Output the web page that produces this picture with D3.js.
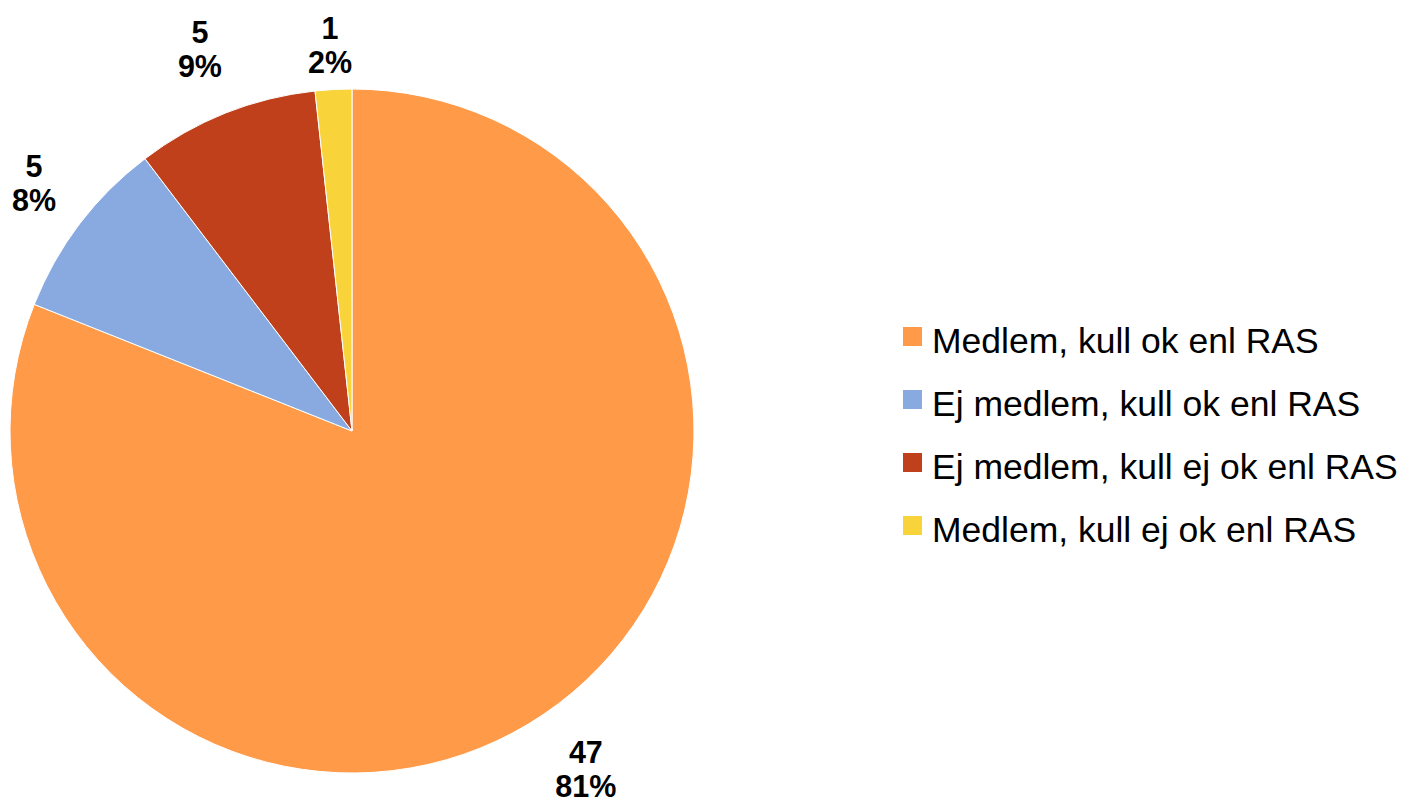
<!DOCTYPE html>
<html>
<head>
<meta charset="utf-8">
<script src="https://cdn.jsdelivr.net/npm/d3@7"></script>
<style>
  body { margin: 0; background: #fff; }
  svg { display: block; font-family: "Liberation Sans", Arial, sans-serif; }
</style>
</head>
<body>
<div id="chart"></div>
<script>
var categories = ["Medlem, kull ok enl RAS", "Ej medlem, kull ok enl RAS", "Ej medlem, kull ej ok enl RAS", "Medlem, kull ej ok enl RAS"];
var counts = [47, 5, 5, 1];
var percentLabels = ["81%", "8%", "9%", "2%"];
var colors = ["#FF9A48", "#88AAE0", "#C0401C", "#F9D33A"];

var width = 1423, height = 802;
var cx = 352, cy = 431, radius = 342;
var labelFont = 30.5, lineGap = 34, capH = 22, labelClear = 374;
var topLimit = 17, bottomLimit = 797, leftLimit = 12;

var svg = d3.select("#chart").append("svg")
    .attr("width", width)
    .attr("height", height);

var data = categories.map(function(c, i){
    return {name: c, value: counts[i], pct: percentLabels[i], color: colors[i]};
});

var pie = d3.pie()
    .value(function(d){ return d.value; })
    .sort(null);

var arc = d3.arc().innerRadius(0).outerRadius(radius);

var g = svg.append("g")
    .attr("transform", "translate(" + cx + "," + cy + ")");

var slices = g.selectAll("g.slice").data(pie(data))
    .enter().append("g")
    .attr("class", "slice");

slices.append("path")
    .attr("d", arc)
    .attr("fill", function(d){ return d.data.color; })
    .attr("stroke", "#fff")
    .attr("stroke-width", 1);

var labels = slices.append("text")
    .attr("text-anchor", "middle")
    .attr("font-size", labelFont)
    .attr("font-weight", "bold")
    .attr("fill", "#000");

// two lines, block centred on (0,0): cap top at -half, last baseline at +half
var half = (capH + lineGap) / 2;
labels.append("tspan")
    .attr("x", 0)
    .attr("y", -half + capH)
    .text(function(d){ return d.data.value; });

labels.append("tspan")
    .attr("x", 0)
    .attr("y", half)
    .text(function(d){ return d.data.pct; });

// slide each label box out along its mid-angle until its nearest corner
// clears the pie by a fixed distance, then keep it inside the chart area
labels.attr("transform", function(d){
    var bb = this.getBBox();
    var a = (d.startAngle + d.endAngle) / 2;
    var sx = Math.sin(a), sy = -Math.cos(a);
    var hw = bb.width / 2, hh = half + 3;
    var lo = 0, hi = 1000;
    for (var k = 0; k < 40; k++) {
        var t = (lo + hi) / 2;
        var ex = Math.max(0, Math.abs(t * sx) - hw);
        var ey = Math.max(0, Math.abs(t * sy) - hh);
        if (Math.sqrt(ex * ex + ey * ey) < labelClear) lo = t; else hi = t;
    }
    var x = lo * sx, y = lo * sy;
    x = Math.max(x, leftLimit - cx + hw);
    y = Math.max(y, topLimit - cy + half);
    y = Math.min(y, bottomLimit - cy - half);
    return "translate(" + x + "," + y + ")";
});

// legend
var legend = svg.append("g")
    .attr("transform", "translate(903,327)");

var rows = legend.selectAll("g").data(data)
    .enter().append("g")
    .attr("transform", function(d, i){ return "translate(0," + (i * 63) + ")"; });

rows.append("rect")
    .attr("width", 19)
    .attr("height", 19)
    .attr("fill", function(d){ return d.color; });

rows.append("text")
    .attr("x", 29)
    .attr("y", 26)
    .attr("font-size", 35.5)
    .attr("fill", "#000")
    .text(function(d){ return d.name; });
</script>
</body>
</html>
